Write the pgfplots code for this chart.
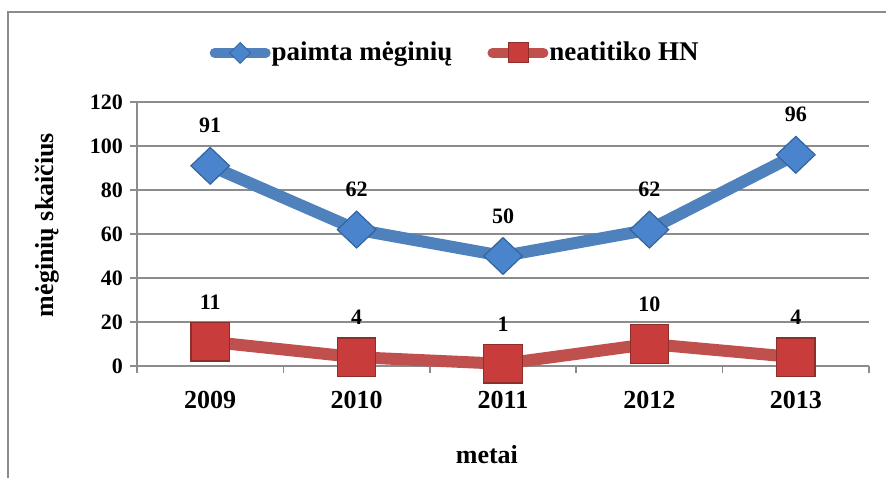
\documentclass[border=0pt]{standalone}
\usepackage{fontspec}
\setmainfont{Liberation Serif}
\usepackage{pgfplots}
\pgfplotsset{compat=1.18}
\definecolor{blueL}{HTML}{4F81BD}
\definecolor{blueM}{HTML}{4A84CC}
\definecolor{blueD}{HTML}{35649F}
\definecolor{redL}{HTML}{C0504D}
\definecolor{redM}{HTML}{C83D3B}
\definecolor{redD}{HTML}{8E2E2B}
\definecolor{gridc}{HTML}{8C8C8C}
\begin{document}
\begin{tikzpicture}
\useasboundingbox (0,0) rectangle (443pt,238.5pt);
\draw[gridc, line width=0.8pt] (4pt,-2pt) -- (4pt,232.5pt) -- (445pt,232.5pt);
\begin{axis}[
  at={(68.5pt,55.5pt)}, anchor=south west,
  scale only axis, width=366pt, height=132pt,
  xmin=-0.5, xmax=4.5, ymin=0, ymax=120,
  clip=false,
  axis x line*=bottom, axis y line*=left,
  axis line style={gridc, line width=0.8pt, -},
  ytick={0,20,...,120},
  ymajorgrids, grid style={gridc, line width=0.8pt},
  tick align=outside, major tick length=3.5pt,
  tick style={gridc, line width=0.8pt},
  xtick={-0.5,0.5,...,4.5}, xticklabels={},
  extra x ticks={0,1,2,3,4},
  extra x tick labels={2009,2010,2011,2012,2013},
  extra x tick style={major tick length=0pt, grid=none,
     tick label style={font=\bfseries\fontsize{13}{15}\selectfont, yshift=-9pt}},
  /pgf/number format/assume math mode=true,
  yticklabel style={font=\bfseries\fontsize{11}{13}\selectfont},
  ylabel={mėginių skaičius},
  ylabel style={font=\bfseries\fontsize{13}{15}\selectfont, at={(axis description cs:-0.123,0.534)}, anchor=center},
  xlabel={metai},
  xlabel style={font=\bfseries\fontsize{13}{15}\selectfont, at={(axis description cs:0.478,-0.337)}, anchor=center},
  nodes near coords,
  every node near coord/.append style={font=\bfseries\fontsize{11}{13}\selectfont, text=black, anchor=center, yshift=20pt},
  legend columns=2,
  legend style={draw=none, fill=none, at={(axis description cs:0.434,1.186)}, anchor=center,
    font=\bfseries\fontsize{13.5}{15}\selectfont, inner xsep=0pt,
    /tikz/every even column/.append style={column sep=17pt},
    nodes={inner xsep=0.5pt}},
]
\addplot[color=blueL, line width=6pt, mark=square*, mark size=6.5pt,
  mark options={xscale=1.05, rotate=45, fill=blueM, draw=blueD, line width=0.6pt},
  legend image code/.code={
    \draw[blueL, line width=5pt, line cap=round] (2.5pt,0pt) -- (28pt,0pt);
    \fill[blueM, draw=blueD, line width=0.4pt] (15.25pt,5.25pt) -- (20.5pt,0pt) -- (15.25pt,-5.25pt) -- (10pt,0pt) -- cycle;}]
  coordinates {(0,91) (1,62) (2,50) (3,62) (4,96)};
\addlegendentry{paimta mėginių}
\addplot[color=redL, line width=6pt, mark=square*, mark size=9.6pt,
  mark options={fill=redM, draw=redD, line width=0.6pt},
  legend image code/.code={
    \draw[redL, line width=5pt, line cap=round] (2.5pt,0pt) -- (28pt,0pt);
    \fill[redM, draw=redD, line width=0.4pt] (10.25pt,-5pt) rectangle (20.25pt,5pt);}]
  coordinates {(0,11) (1,4) (2,1) (3,10) (4,4)};
\addlegendentry{neatitiko HN}
\end{axis}
\end{tikzpicture}
\end{document}
